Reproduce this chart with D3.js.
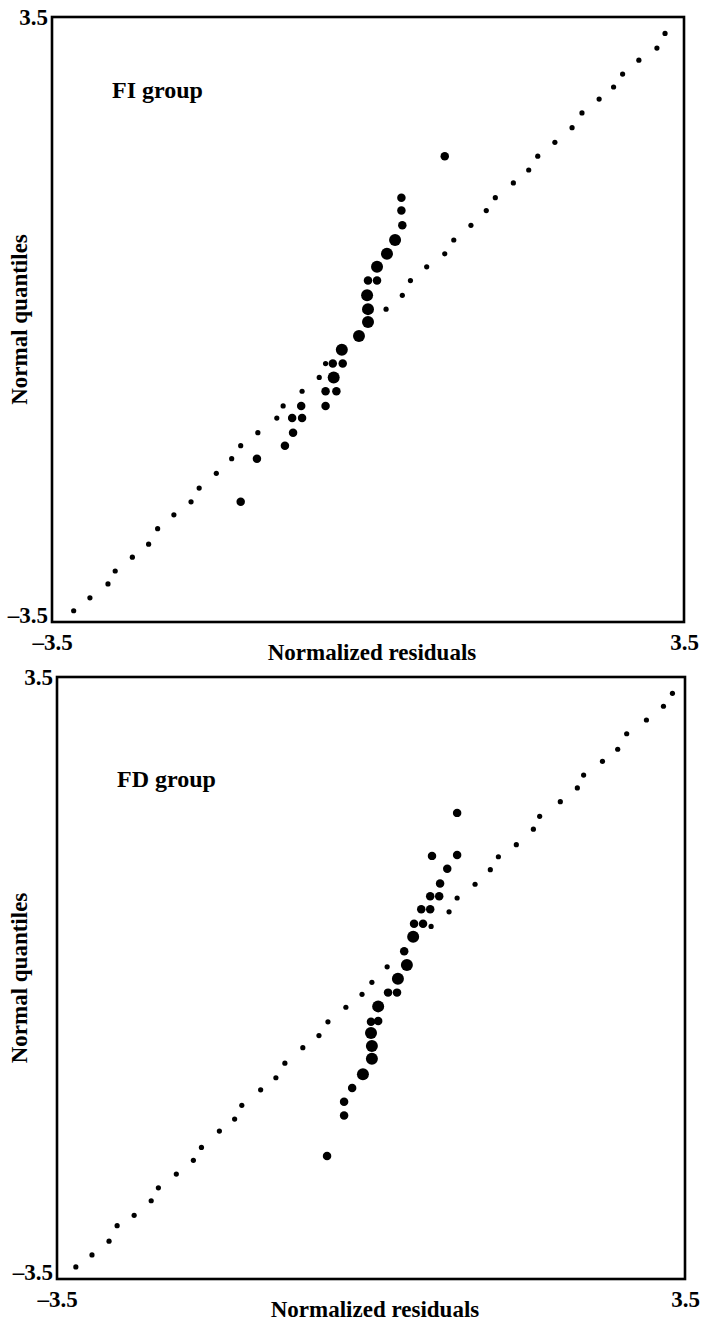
<!DOCTYPE html>
<html>
<head>
<meta charset="utf-8">
<script src="https://cdn.jsdelivr.net/npm/d3@7"></script>
<style>
  html, body { margin: 0; padding: 0; background: #fff; }
  svg text { font-family: "Liberation Serif", "Times New Roman", serif; font-weight: bold; fill: #000; }
</style>
</head>
<body>
<svg id="chart" width="704" height="1325"></svg>
<script>
// axis corner labels
const tickValues = [-3.5, 3.5];

// FI group: reference (diagonal) points
const fiRefX = [-3.26, -3.08, -2.88, -2.80, -2.61, -2.43, -2.33, -2.15, -1.96, -1.87,
  -1.68, -1.51, -1.41, -1.22, -1.01, -0.94, -0.73, -0.54, -0.47, -0.28,
  -0.10, 0.01, 0.20, 0.38, 0.47, 0.65, 0.85, 0.95, 1.14, 1.31,
  1.41, 1.61, 1.78, 1.88, 2.07, 2.26, 2.37, 2.56, 2.72, 2.82,
  3.00, 3.20, 3.29];
const fiRefY = [-3.37, -3.22, -3.06, -2.91, -2.75, -2.60, -2.42, -2.26, -2.11, -1.95,
  -1.78, -1.61, -1.46, -1.31, -1.14, -1.00, -0.83, -0.67, -0.51, -0.35,
  -0.19, -0.03, 0.12, 0.28, 0.45, 0.61, 0.76, 0.92, 1.09, 1.26,
  1.41, 1.58, 1.73, 1.89, 2.05, 2.22, 2.39, 2.55, 2.69, 2.84,
  3.00, 3.14, 3.31];
// FI group: observed residuals (count = overlapping cases)
const fiResid = [-1.41, -1.23, -0.92, -0.83, -0.84, -0.73, -0.74, -0.47, -0.47, -0.35,
  -0.38, -0.39, -0.28, -0.29, -0.10, 0.00, 0.00, -0.01, 0.00, 0.10,
  0.10, 0.21, 0.30, 0.38, 0.37, 0.37, 0.85];
const fiQuant = [-2.11, -1.61, -1.46, -1.31, -1.14, -1.14, -1.00, -1.00, -0.83, -0.83,
  -0.67, -0.51, -0.51, -0.35, -0.19, -0.03, 0.12, 0.28, 0.45, 0.45,
  0.61, 0.76, 0.92, 1.09, 1.26, 1.41, 1.89];
const fiCount = [1, 1, 1, 1, 1, 1, 1, 1, 1, 1,
  2, 1, 1, 2, 2, 2, 2, 2, 1, 1,
  2, 2, 2, 1, 1, 1, 1];

// FD group: reference (diagonal) points
const fdRefX = [-3.29, -3.11, -2.92, -2.83, -2.64, -2.45, -2.37, -2.17, -1.98, -1.89,
  -1.69, -1.52, -1.44, -1.23, -1.06, -0.96, -0.76, -0.58, -0.48, -0.28,
  -0.10, 0.01, 0.18, 0.37, 0.47, 0.67, 0.87, 0.96, 1.16, 1.33,
  1.42, 1.62, 1.81, 1.88, 2.11, 2.30, 2.37, 2.58, 2.75, 2.85,
  3.07, 3.26, 3.36];
const fdRefY = [-3.36, -3.22, -3.06, -2.88, -2.76, -2.59, -2.44, -2.28, -2.12, -1.97,
  -1.78, -1.64, -1.48, -1.30, -1.16, -0.99, -0.81, -0.67, -0.51, -0.34,
  -0.19, -0.05, 0.13, 0.30, 0.47, 0.60, 0.77, 0.93, 1.09, 1.26,
  1.41, 1.55, 1.73, 1.88, 2.05, 2.21, 2.36, 2.52, 2.66, 2.84,
  3.00, 3.16, 3.31];
// FD group: observed residuals
const fdResid = [-0.49, -0.30, -0.30, -0.21, -0.09, 0.01, 0.01, 0.00, 0.00, 0.08,
  0.08, 0.19, 0.29, 0.30, 0.40, 0.37, 0.47, 0.48, 0.58, 0.56,
  0.66, 0.66, 0.76, 0.77, 0.85, 0.96, 0.68, 0.96];
const fdQuant = [-2.07, -1.60, -1.44, -1.28, -1.12, -0.94, -0.79, -0.64, -0.51, -0.50,
  -0.33, -0.17, -0.17, -0.01, 0.15, 0.31, 0.48, 0.63, 0.63, 0.80,
  0.80, 0.95, 0.95, 1.10, 1.27, 1.43, 1.42, 1.92];
const fdCount = [1, 1, 1, 1, 2, 2, 2, 2, 1, 1,
  2, 1, 1, 2, 2, 1, 2, 1, 1, 1,
  1, 1, 1, 1, 1, 1, 1, 1];

const svg = d3.select('#chart');
const FONT = 23;
const rSize = d3.scaleSqrt().domain([0, 2]).range([0, 6]);
// printed with an en dash like the original
const fmt = d => d3.format('.1f')(d).replace('\u2212', '\u2013');

function drawPanel(p) {
    const x = d3.scaleLinear().domain([-3.5, 3.5]).range([p.left, p.right]);
    const y = d3.scaleLinear().domain([-3.5, 3.5]).range([p.bottom, p.top]);
    const g = svg.append('g');

    // x axis corner labels
    const xa = g.append('g')
        .attr('transform', `translate(0,${p.bottom})`)
        .call(d3.axisBottom(x).tickValues(tickValues).tickSize(0).tickPadding(12).tickFormat(fmt));
    // y axis corner labels
    const ya = g.append('g')
        .attr('transform', `translate(${p.left},0)`)
        .call(d3.axisLeft(y).tickValues(tickValues).tickSize(0).tickPadding(4).tickFormat(fmt));
    [xa, ya].forEach(a => {
        a.select('.domain').remove();
        a.selectAll('text')
            .style('font-size', FONT + 'px')
            .style('font-family', '"Liberation Serif", serif')
            .style('font-weight', 'bold');
    });
    ya.selectAll('.tick text').filter(d => d < 0).attr('dy', '0em');

    // frame
    g.append('rect')
        .attr('x', p.left).attr('y', p.top)
        .attr('width', p.right - p.left).attr('height', p.bottom - p.top)
        .attr('fill', 'none').attr('stroke', '#000').attr('stroke-width', 2.6);

    // reference diagonal points
    g.append('g').selectAll('circle')
        .data(p.refX.map((v, i) => [v, p.refY[i]]))
        .join('circle')
        .attr('cx', d => x(d[0])).attr('cy', d => y(d[1]))
        .attr('r', 2.6).attr('fill', '#000');

    // observed points
    g.append('g').selectAll('circle')
        .data(p.resid.map((v, i) => [v, p.quant[i], p.count[i]]))
        .join('circle')
        .attr('cx', d => x(d[0])).attr('cy', d => y(d[1]))
        .attr('r', d => rSize(d[2])).attr('fill', '#000');

    // group label
    g.append('text')
        .attr('x', p.left + 60).attr('y', p.top + p.titleDy)
        .style('font-size', '24px')
        .text(p.title);

    // axis titles
    g.append('text')
        .attr('x', (p.left + p.right) / 2 + 4).attr('y', p.bottom + 38)
        .attr('text-anchor', 'middle')
        .style('font-size', FONT + 'px')
        .text('Normalized residuals');
    g.append('text')
        .attr('transform', `translate(27,${(p.top + p.bottom) / 2}) rotate(-90)`)
        .attr('text-anchor', 'middle')
        .style('font-size', FONT + 'px')
        .text('Normal quantiles');
}

drawPanel({ left: 52, right: 684, top: 17, bottom: 622, titleDy: 81, title: 'FI group',
    refX: fiRefX, refY: fiRefY, resid: fiResid, quant: fiQuant, count: fiCount });
drawPanel({ left: 57, right: 685, top: 677, bottom: 1279, titleDy: 110, title: 'FD group',
    refX: fdRefX, refY: fdRefY, resid: fdResid, quant: fdQuant, count: fdCount });
</script>
</body>
</html>
